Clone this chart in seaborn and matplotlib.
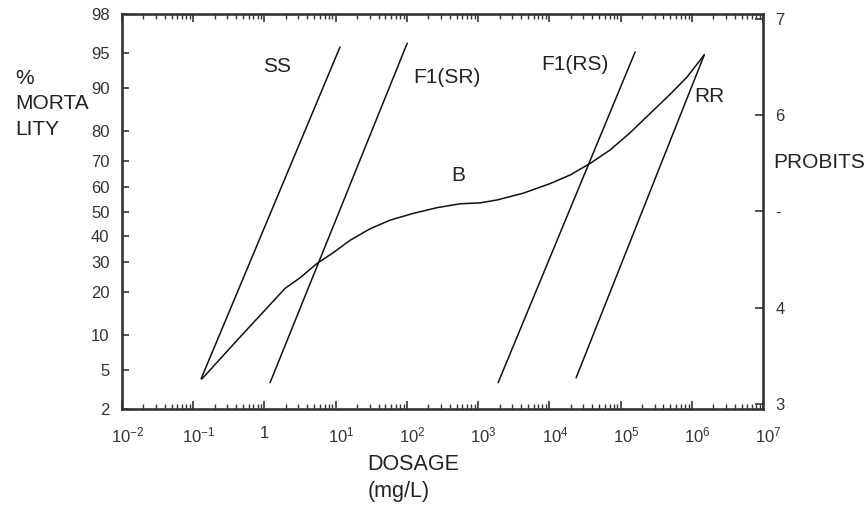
import matplotlib
matplotlib.use("Agg")
import matplotlib.pyplot as plt
import matplotlib.transforms as mtransforms
import seaborn as sns
import pandas as pd
from matplotlib.ticker import FixedLocator, FixedFormatter, LogLocator, NullFormatter

# dose (mg/L) vs probit
ss_dose = [0.129, 11.5]
ss_probit = [3.26, 6.71]
sr_dose = [1.20, 101]
sr_probit = [3.22, 6.75]
rs_dose = [1910, 160300]
rs_probit = [3.22, 6.66]
rr_dose = [23770, 1500000]
rr_probit = [3.27, 6.63]
b_dose = [0.133, 0.412, 1.945, 3.16, 5.48, 9.18, 15.9, 30.4, 58.1, 122,
          265, 558, 1067, 1849, 4285, 10260, 19590, 37410, 71450, 136500,
          260600, 497700, 861000, 1500000]
b_probit = [3.26, 3.66, 4.20, 4.31, 4.46, 4.57, 4.70, 4.82, 4.91, 4.98,
            5.04, 5.08, 5.09, 5.12, 5.19, 5.29, 5.38, 5.50, 5.64, 5.82,
            6.02, 6.22, 6.40, 6.63]

series_names = ["SS", "F1(SR)", "F1(RS)", "RR", "B"]

# left axis: % mortality at its probit value
mortality_labels = ["2", "5", "10", "20", "30", "40", "50", "60", "70", "80", "90", "95", "98"]
mortality_probits = [2.946, 3.355, 3.718, 4.158, 4.476, 4.747, 5.0, 5.253,
                     5.524, 5.842, 6.282, 6.645, 7.054]
# right axis: probits
probit_ticks = [3, 4, 5, 6, 7]
probit_labels = ["3", "4", "-", "6", "7"]
# bottom axis decades
dose_ticks = [1e-2, 1e-1, 1, 1e1, 1e2, 1e3, 1e4, 1e5, 1e6, 1e7]
dose_labels = ["$10^{-2}$", "$10^{-1}$", "1", "$10^{1}$", "$10^{2}$", "$10^{3}$",
               "$10^{4}$", "$10^{5}$", "$10^{6}$", "$10^{7}$"]

sns.set_style("ticks")
plt.rcParams["font.family"] = ["Liberation Sans", "DejaVu Sans"]
plt.rcParams["mathtext.fontset"] = "custom"
plt.rcParams["mathtext.rm"] = "Liberation Sans"
plt.rcParams["mathtext.default"] = "rm"

frames = []
for name, d, p in zip(series_names,
                      [ss_dose, sr_dose, rs_dose, rr_dose, b_dose],
                      [ss_probit, sr_probit, rs_probit, rr_probit, b_probit]):
    frames.append(pd.DataFrame({"dose": d, "probit": p, "line": name}))
df = pd.concat(frames, ignore_index=True)

fig = plt.figure(figsize=(8.64, 5.07), dpi=100)
ax = fig.add_axes([122 / 864, 1 - 409 / 507, 641 / 864, 395 / 507])
ax.set_xscale("log")

for name in series_names:
    sns.lineplot(data=df[df["line"] == name], x="dose", y="probit", ax=ax,
                 color="#111111", linewidth=1.1, sort=False, estimator=None)

ax.set_xlim(1e-2, 1e7)
ax.set_ylim(2.946, 7.054)
ax.set_xlabel("")
ax.set_ylabel("")

spine_col = "#333333"
for s in ax.spines.values():
    s.set_visible(True)
    s.set_color(spine_col)
    s.set_linewidth(1.9)

# x ticks
ax.xaxis.set_major_locator(FixedLocator(dose_ticks))
ax.xaxis.set_major_formatter(FixedFormatter(dose_labels))
ax.xaxis.set_minor_locator(LogLocator(base=10, subs=range(2, 10), numticks=20))
ax.xaxis.set_minor_formatter(NullFormatter())
ax.tick_params(axis="x", which="major", direction="in", top=True, bottom=True,
               length=6, width=1.2, color=spine_col, labelsize=12,
               labelcolor="#333333", pad=12)
ax.tick_params(axis="x", which="minor", direction="in", top=True, bottom=True,
               length=3.5, width=1.0, color=spine_col)

# left y ticks (% mortality)
ax.yaxis.set_major_locator(FixedLocator(mortality_probits))
ax.yaxis.set_major_formatter(FixedFormatter(mortality_labels))
ax.tick_params(axis="y", which="major", direction="in", left=True, right=False,
               length=5, width=1.2, color=spine_col, labelsize=12,
               labelcolor="#333333", pad=9)

# right y ticks (probits)
ax2 = ax.twinx()
ax2.set_ylim(ax.get_ylim())
ax2.yaxis.set_major_locator(FixedLocator(probit_ticks))
ax2.yaxis.set_major_formatter(FixedFormatter(probit_labels))
ax2.tick_params(axis="y", which="major", direction="in", length=6, width=1.2,
                color=spine_col, labelsize=12, labelcolor="#333333", pad=9)
for s in ax2.spines.values():
    s.set_visible(False)

# nudge the power labels so the "10" sits under its tick
shift = mtransforms.ScaledTranslation(4 / 72, 0, fig.dpi_scale_trans)
for lbl in ax.get_xticklabels():
    if lbl.get_text() != "1":
        lbl.set_transform(lbl.get_transform() + shift)

# curve labels
txt = dict(fontsize=15, color="#222222", ha="center", va="center", transform=ax.transAxes)
ax.text(0.242, 0.868, "SS", **txt)
ax.text(0.507, 0.838, "F1(SR)", **txt)
ax.text(0.707, 0.871, "F1(RS)", **txt)
ax.text(0.917, 0.790, "RR", **txt)
ax.text(0.524, 0.592, "B", **txt)

# axis titles
fig.text(15 / 864, 1 - 104 / 507, "%\nMORTA\nLITY", fontsize=15, color="#222222",
         ha="left", va="center", linespacing=1.45)
fig.text(773 / 864, 1 - 163 / 507, "PROBITS", fontsize=15, color="#222222",
         ha="left", va="center")
fig.text(367 / 864, 1 - 464 / 507, "DOSAGE", fontsize=15.5, color="#222222",
         ha="left", va="center")
fig.text(368 / 864, 1 - 492 / 507, "(mg/L)", fontsize=15.5, color="#222222",
         ha="left", va="center")

fig.savefig("out.png", dpi=100)
